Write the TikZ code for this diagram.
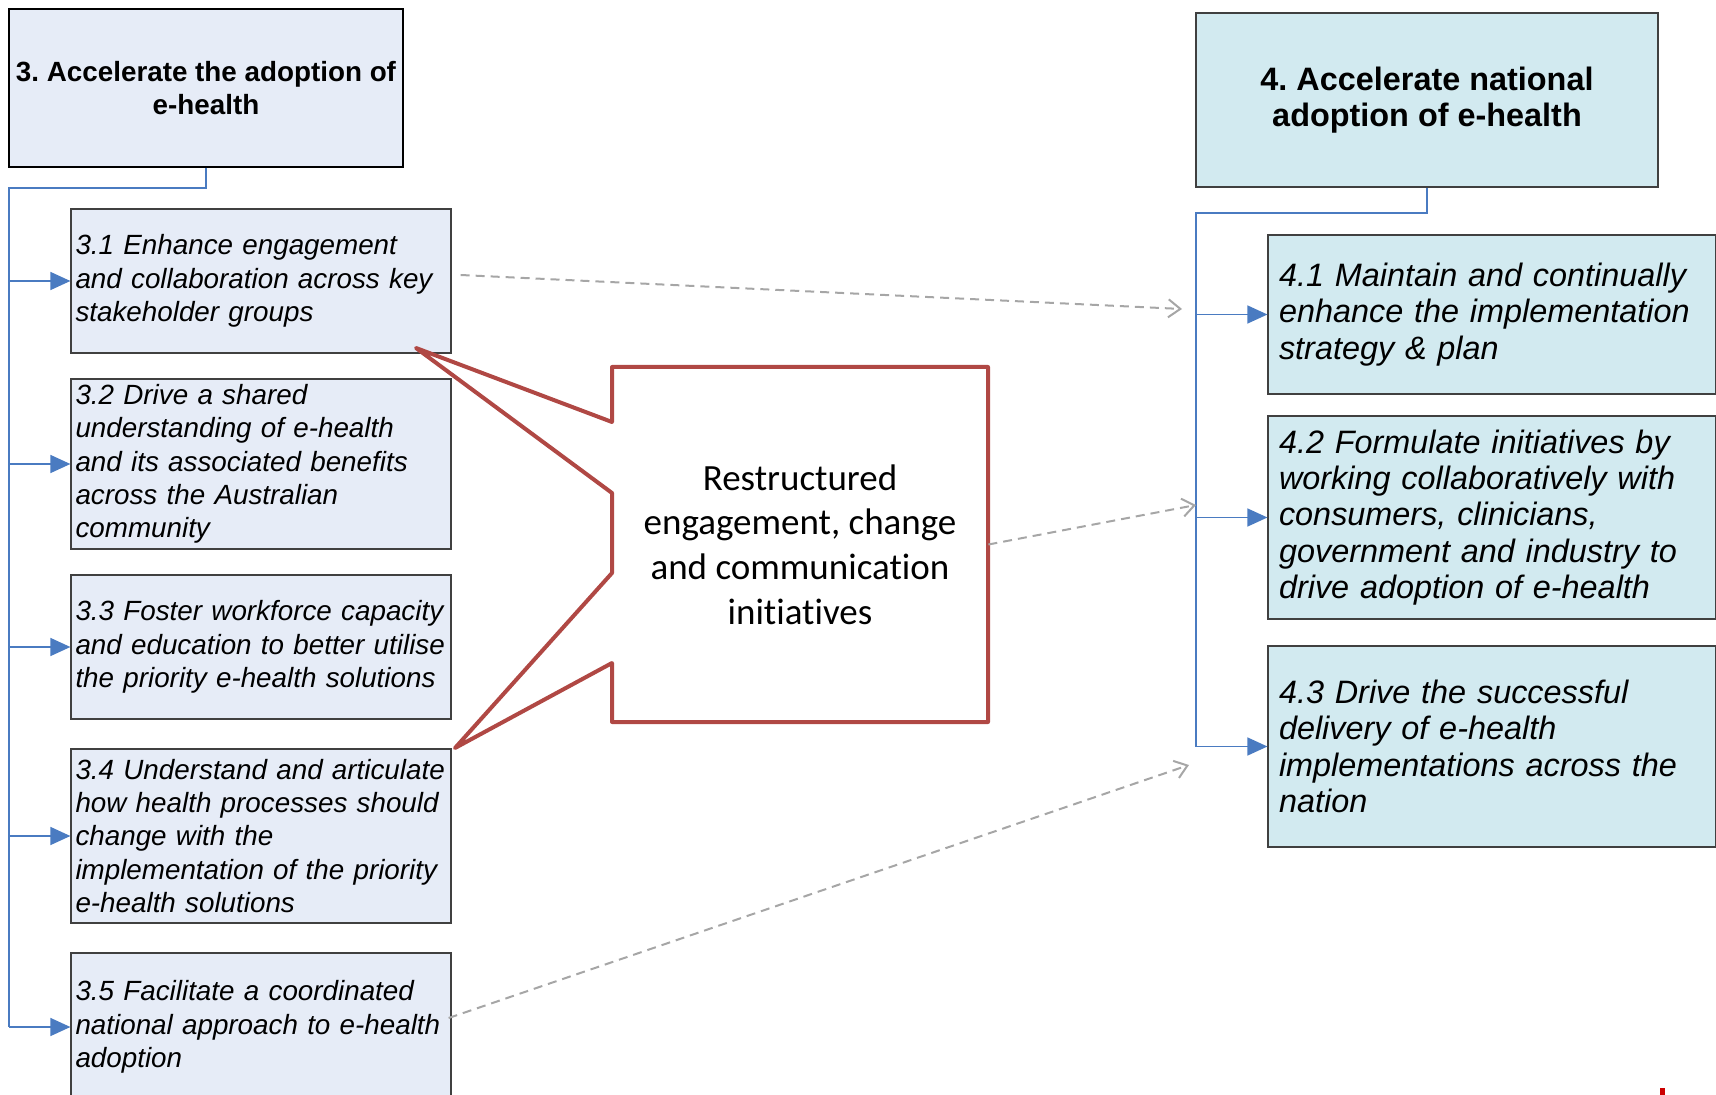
\documentclass[tikz,border=0pt]{standalone}
\usepackage{fontspec}
\setmainfont{Liberation Sans}
\newfontfamily\calloutfont[Ligatures=NoCommon]{Carlito}
\usepackage{xcolor}
\definecolor{leftfill}{HTML}{E6ECF7}
\definecolor{rightfill}{HTML}{D2EAF0}
\definecolor{boxedge}{HTML}{404040}
\definecolor{linkblue}{HTML}{4A7BC1}
\definecolor{calloutred}{HTML}{B04844}
\definecolor{dashgrey}{HTML}{A6A6A6}
\usetikzlibrary{arrows.meta}
\frenchspacing

\tikzset{
  goalbox/.style={draw=black, line width=0.6pt, align=center, inner sep=0pt},
  leftbox/.style={draw=boxedge, fill=leftfill, line width=0.6pt, minimum width=190pt,
    text width=185.5pt, inner xsep=2.25pt, inner ysep=0pt, align=left,
    font=\fontsize{13.9pt}{16.7pt}\selectfont\itshape},
  rightbox/.style={draw=boxedge, fill=rightfill, line width=0.6pt, minimum width=224pt,
    text width=213pt, inner xsep=5.5pt, inner ysep=0pt, align=left,
    font=\fontsize{16.2pt}{18.2pt}\selectfont\itshape},
  treeline/.style={draw=linkblue, line width=0.7pt},
  treearrow/.style={treeline, -{Triangle[length=10pt,width=9pt]}},
  linkdash/.style={draw=dashgrey, line width=1pt, dash pattern=on 4.5pt off 3pt,
    -{Straight Barb[length=6pt,width=9pt]}}
}

\begin{document}
\begin{tikzpicture}[x=0.5pt,y=-0.5pt]
  \clip (0,0) rectangle (1716,1095);
  % Goal 3 and its sub-goals
  \node[goalbox, fill=leftfill, minimum width=197pt, minimum height=79pt,
        font=\fontsize{13.9pt}{16.5pt}\selectfont\bfseries] (g3) at (206,88)
        {3. Accelerate the adoption of\\e-health};
  \node[leftbox, minimum height=72pt] (s31) at (261,281)
        {3.1 Enhance engagement\\and collaboration across key\\stakeholder groups};
  \node[leftbox, minimum height=85pt] (s32) at (261,464)
        {3.2 Drive a shared\\understanding of e-health\\and its associated benefits\\across the Australian\\community};
  \node[leftbox, minimum height=72pt] (s33) at (261,647)
        {3.3 Foster workforce capacity\\and education to better utilise\\the priority e-health solutions};
  \node[leftbox, minimum height=87pt] (s34) at (261,836)
        {3.4 Understand and articulate\\how health processes should\\change with the\\implementation of the priority\\e-health solutions};
  \node[leftbox, minimum height=74pt] (s35) at (261,1027)
        {3.5 Facilitate a coordinated\\national approach to e-health\\adoption};

  % Goal 4 and its sub-goals
  \node[goalbox, draw=boxedge, fill=rightfill, minimum width=231pt, minimum height=87pt,
        font=\fontsize{16.2pt}{18pt}\selectfont\bfseries] (g4) at (1427,100)
        {4. Accelerate national\\adoption of e-health};
  \node[rightbox, minimum height=79.5pt] (s41) at (1492,314.5)
        {4.1 Maintain and continually\\enhance the implementation\\strategy \& plan};
  \node[rightbox, minimum height=101.5pt] (s42) at (1492,517.5)
        {4.2 Formulate initiatives by\\working collaboratively with\\consumers, clinicians,\\government and industry to\\drive adoption of e-health};
  \node[rightbox, minimum height=100.5pt] (s43) at (1492,746.5)
        {4.3 Drive the successful\\delivery of e-health\\implementations across the\\nation};

  % Tree connectors
  \coordinate (k3) at (9,188);
  \coordinate (k4) at (1196,213);
  \draw[treeline] (g3.south) |- (k3) -- (k3 |- s35.west);
  \draw[treeline] (g4.south) |- (k4) -- (k4 |- s43.west);
  \foreach \b in {s31,s32,s33,s34,s35}
    \draw[treearrow] (k3 |- \b.west) -- (\b.west);
  \foreach \b in {s41,s42,s43}
    \draw[treearrow] (k4 |- \b.west) -- (\b.west);

  % Callout
  \draw[calloutred, fill=white, line width=2pt, line join=round]
    (612,367) -- (988,367) -- (988,722) -- (612,722) -- (612,663) -- (455,748)
    -- (612,573) -- (612,493) -- (416,348) -- (612,422) -- cycle;
  \node[minimum width=188pt, minimum height=177.5pt, align=center,
        font=\calloutfont\fontsize{18.5pt}{22.4pt}\selectfont] (call) at (800,544.5)
        {Restructured\\engagement, change\\and communication\\initiatives};

  % Dashed links
  \coordinate (t41) at (1182,309);
  \coordinate (t42) at (1196,505);
  \coordinate (t43) at (1189,765);
  \draw[linkdash] ([shift={(9,-6)}]s31.east) -- (t41);
  \draw[linkdash] (call.east) -- (t42);
  \draw[linkdash] ([shift={(-3,-9)}]s35.east) -- (t43);

  % Clipped mark, bottom right
  \fill[red!80!black] (1660,1088) rectangle (1665,1095);
\end{tikzpicture}
\end{document}
